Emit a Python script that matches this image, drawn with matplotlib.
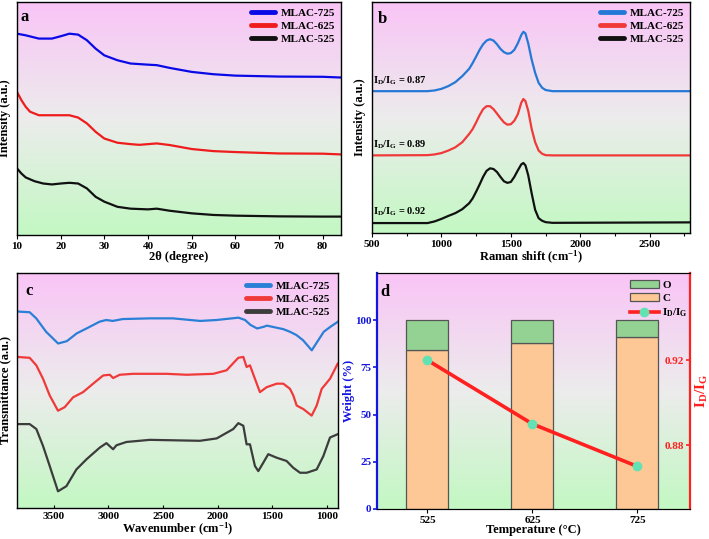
import numpy as np
import matplotlib
matplotlib.use('Agg')
import matplotlib.pyplot as plt
from matplotlib.colors import LinearSegmentedColormap
from matplotlib.lines import Line2D
from matplotlib.patches import Patch
from matplotlib.ticker import MultipleLocator

plt.rcParams['font.family'] = ['Liberation Serif', 'DejaVu Serif']
plt.rcParams['font.weight'] = 'bold'
plt.rcParams['axes.labelweight'] = 'bold'
plt.rcParams['mathtext.fontset'] = 'custom'
plt.rcParams['mathtext.rm'] = 'Liberation Serif:bold'
plt.rcParams['mathtext.it'] = 'Liberation Serif:italic:bold'
plt.rcParams['mathtext.bf'] = 'Liberation Serif:bold'
plt.rcParams['mathtext.default'] = 'rm'

# ---------------- data ----------------
series_names = ['MLAC-725', 'MLAC-625', 'MLAC-525']

# (a) XRD
xrd_725_x = [10, 12, 15, 18, 20, 22, 24, 26, 28, 30, 33, 36, 40, 42, 45, 50, 55, 60, 70, 80, 84]
xrd_725_y = [86.4, 85.7, 84.3, 84.3, 85.3, 86.4, 86.0, 83.6, 80.0, 77.1, 75.0, 73.6, 73.1, 72.9,
             71.7, 70.0, 69.0, 68.4, 68.0, 67.9, 67.6]
xrd_625_x = [10, 11, 12, 13, 15, 18, 20, 22, 24, 26, 28, 30, 33, 36, 38, 40, 42, 45, 50, 55, 60, 70, 80, 84]
xrd_625_y = [61.4, 57.9, 55.0, 52.9, 51.4, 51.4, 51.4, 51.4, 50.4, 47.9, 44.3, 41.4, 39.6, 39.0,
             38.7, 39.0, 39.3, 38.6, 36.9, 36.0, 35.6, 35.0, 34.9, 34.6]
xrd_525_x = [10, 11, 12, 14, 16, 18, 20, 22, 24, 26, 28, 30, 33, 36, 40, 42, 45, 50, 55, 60, 70, 80, 84]
xrd_525_y = [28.6, 26.4, 24.7, 23.1, 22.1, 21.7, 22.1, 22.4, 22.1, 20.0, 16.4, 14.3, 12.1, 11.3,
             11.0, 11.3, 10.4, 9.3, 8.6, 8.3, 8.0, 7.9, 7.9]

# (b) Raman (shared wavenumber grid)
ram_x = [500, 900, 950, 1000, 1050, 1100, 1150, 1200, 1225, 1250, 1275, 1300, 1325, 1350, 1375,
         1400, 1425, 1450, 1475, 1500, 1525, 1550, 1575, 1590, 1605, 1625, 1650, 1675, 1700,
         1725, 1750, 1800, 2800]
ram_725_y = [61.4, 61.4, 61.7, 62.4, 63.6, 65.3, 67.9, 71.1, 73.6, 76.4, 79.3, 81.7, 83.3, 83.9,
             83.3, 81.7, 79.7, 78.3, 77.6, 77.9, 79.3, 82.1, 85.7, 87.1, 86.4, 82.1, 75.0, 69.3,
             65.0, 62.9, 61.9, 61.4, 61.4]
ram_625_y = [33.6, 33.7, 34.0, 34.6, 35.7, 37.1, 39.3, 42.9, 45.0, 47.9, 51.0, 53.6, 54.9, 54.9,
             53.6, 51.7, 49.7, 47.9, 46.9, 47.1, 48.6, 51.4, 56.4, 58.0, 57.1, 52.9, 45.0, 39.3,
             35.7, 34.3, 33.7, 33.6, 33.6]
ram_525_y = [4.3, 4.3, 5.0, 6.1, 7.4, 8.6, 10.3, 12.9, 15.0, 17.9, 21.0, 24.3, 26.9, 28.0, 27.7,
             26.4, 24.3, 22.4, 21.7, 22.1, 24.3, 27.1, 29.7, 30.3, 29.3, 25.0, 17.1, 10.0, 6.4,
             5.3, 4.7, 4.4, 4.6]
ram_ratios = ['0.87', '0.89', '0.92']

# (c) FTIR
ftir_725_x = [3830, 3720, 3660, 3570, 3460, 3380, 3290, 3200, 3080, 3020, 2960, 2870, 2620, 2410,
              2160, 2010, 1810, 1750, 1700, 1640, 1580, 1550, 1460, 1400, 1340, 1280, 1220, 1140,
              1100, 1030, 970, 900]
ftir_725_y = [83.6, 83.3, 80.7, 75.0, 70.0, 71.0, 74.3, 76.4, 79.3, 80.0, 79.6, 80.4, 80.7, 80.7,
              79.6, 80.0, 81.0, 80.0, 77.9, 76.4, 77.1, 77.6, 76.7, 76.1, 75.0, 73.6, 71.4, 67.1,
              70.0, 75.0, 77.1, 79.3]
ftir_625_x = [3836, 3720, 3659, 3598, 3537, 3461, 3400, 3323, 3232, 3140, 3048, 2987, 2957, 2896,
              2774, 2469, 2285, 2041, 1919, 1812, 1766, 1736, 1705, 1660, 1614, 1553, 1461, 1400,
              1339, 1309, 1278, 1217, 1141, 1095, 1049, 973, 903]
ftir_625_y = [64.3, 63.9, 60.7, 55.0, 47.9, 41.4, 42.9, 47.1, 49.3, 52.9, 56.4, 56.7, 55.3, 56.7,
              57.1, 57.1, 56.7, 57.1, 58.6, 63.9, 64.3, 60.0, 60.7, 55.0, 49.3, 51.4, 52.9, 52.9,
              50.7, 47.9, 43.6, 42.1, 39.3, 43.6, 50.7, 55.0, 61.4]
ftir_525_x = [3836, 3720, 3659, 3598, 3537, 3461, 3384, 3293, 3201, 3079, 3018, 2957, 2926, 2835,
              2621, 2163, 2010, 1858, 1812, 1766, 1736, 1705, 1660, 1629, 1583, 1538, 1461, 1370,
              1309, 1247, 1186, 1095, 1034, 973, 903]
ftir_525_y = [35.7, 35.7, 33.6, 26.4, 17.9, 7.1, 9.3, 16.4, 20.7, 25.7, 27.6, 25.0, 26.7, 28.1,
              29.0, 28.6, 29.6, 33.6, 36.1, 35.0, 27.1, 27.1, 17.9, 15.7, 19.3, 22.9, 21.4, 20.0,
              17.1, 15.0, 15.0, 16.4, 22.1, 30.0, 31.4]

# (d) composition
temps = ['525', '625', '725']
carbon = [84, 88, 91]
oxygen = [16, 12, 9]
id_ig = [0.92, 0.89, 0.87]

# ---------------- figure ----------------
W, H = 709, 539
fig = plt.figure(figsize=(W / 100, H / 100), dpi=100)


def add_ax(l, r, t, b):
    return fig.add_axes([l / W, 1 - b / H, (r - l) / W, (b - t) / H])


bg_cmap = LinearSegmentedColormap.from_list(
    'bg', [(0.0, '#c3f8c3'), (0.5, '#ececec'), (1.0, '#f9c4f6')])


def background(ax):
    g = np.linspace(0, 1, 256).reshape(-1, 1)
    ax.imshow(g, cmap=bg_cmap, origin='lower', extent=[0, 1, 0, 1],
              transform=ax.transAxes, aspect='auto', zorder=0, interpolation='bilinear')


def style(ax):
    for s in ax.spines.values():
        s.set_linewidth(1.0)
        s.set_zorder(5)
    ax.tick_params(axis='x', labelsize=8, length=3, width=0.8, pad=2)
    ax.set_yticks([])


def legend3(ax, colors, pad, lw=3.5):
    handles = [Line2D([], [], color=c, lw=lw, solid_capstyle='round') for c in colors]
    ax.legend(handles, series_names, loc='upper right', frameon=False, fontsize=8,
              handlelength=2.2, handletextpad=0.5, labelspacing=0.3,
              borderaxespad=pad, borderpad=0.2)


tick_fs = 8
lab_fs = 9

# ---- (a)
axa = add_ax(17, 341, 2, 235)
background(axa)
ca = ['#0a0ae6', '#ee1c1c', '#111111']
axa.plot(xrd_725_x, xrd_725_y, color=ca[0], lw=1.6, zorder=3)
axa.plot(xrd_625_x, xrd_625_y, color=ca[1], lw=1.6, zorder=3)
axa.plot(xrd_525_x, xrd_525_y, color=ca[2], lw=1.6, zorder=3)
axa.set_xlim(10, 84.2)
axa.set_ylim(0, 100)
axa.set_xticks(range(10, 90, 10))
style(axa)
axa.set_xlabel('2θ (degree)', fontsize=lab_fs, labelpad=0)
axa.set_ylabel('Intensity (a.u.)', fontsize=lab_fs, labelpad=4)
axa.text(0.012, 0.918, 'a', transform=axa.transAxes, fontsize=12, va='baseline', zorder=6)
legend3(axa, ca, 0.35)

# ---- (b)
axb = add_ax(372, 690, 2, 233)
background(axb)
cb = ['#2579d6', '#f03a3a', '#111111']
axb.plot(ram_x, ram_725_y, color=cb[0], lw=1.6, zorder=3)
axb.plot(ram_x, ram_625_y, color=cb[1], lw=1.6, zorder=3)
axb.plot(ram_x, ram_525_y, color=cb[2], lw=1.6, zorder=3)
for ys, r in zip([ram_725_y, ram_625_y, ram_525_y], ram_ratios):
    axb.text(505, ys[0] + 2.0, r'I$_D$/I$_G$ = ' + r, fontsize=7.5, va='bottom', ha='left', zorder=6)
axb.set_xlim(500, 2790)
axb.set_ylim(0, 100)
axb.set_xticks([500, 1000, 1500, 2000, 2500])
axb.xaxis.set_minor_locator(MultipleLocator(250))
style(axb)
axb.tick_params(axis='x', which='minor', length=2, width=0.8)
axb.set_xlabel('Raman shift (cm$^{-1}$)', fontsize=lab_fs, labelpad=0)
axb.set_ylabel('Intensity (a.u.)', fontsize=lab_fs, labelpad=4)
axb.text(0.019, 0.909, 'b', transform=axb.transAxes, fontsize=12, va='baseline', zorder=6)
legend3(axb, cb, 0.35)

# ---- (c)
axc = add_ax(17, 338, 273, 508)
background(axc)
cc = ['#2a7fd6', '#f03a3a', '#3c3c3c']
axc.plot(ftir_725_x, ftir_725_y, color=cc[0], lw=1.6, zorder=3)
axc.plot(ftir_625_x, ftir_625_y, color=cc[1], lw=1.6, zorder=3)
axc.plot(ftir_525_x, ftir_525_y, color=cc[2], lw=1.6, zorder=3)
axc.set_xlim(3836, 900)
axc.set_ylim(0, 100)
axc.set_xticks([3500, 3000, 2500, 2000, 1500, 1000])
style(axc)
axc.tick_params(axis='x', direction='in', length=2.5, pad=3)
axc.set_xlabel('Wavenumber (cm$^{-1}$)', fontsize=lab_fs, labelpad=0)
axc.set_ylabel('Transmittance (a.u.)', fontsize=lab_fs, labelpad=4)
axc.text(0.025, 0.906, 'c', transform=axc.transAxes, fontsize=12, va='baseline', zorder=6)
legend3(axc, cc, 0.5)

# ---- (d)
axd = add_ax(377, 690, 273, 509)
background(axd)
xd = np.arange(len(temps))
c_col = '#fdc895'
o_col = '#93d293'
axd.bar(xd, carbon, width=0.4, color=c_col, edgecolor='#555555', lw=0.9, zorder=2)
axd.bar(xd, oxygen, width=0.4, bottom=carbon, color=o_col, edgecolor='#555555', lw=0.9, zorder=2)
axd.set_xlim(-0.48, 2.5)
axd.set_ylim(0, 125)
axd.set_xticks(xd)
axd.set_xticklabels(temps)
axd.set_yticks([0, 25, 50, 75, 100])
blue = '#1515e0'
red = '#ff2020'
axd.tick_params(axis='x', labelsize=tick_fs, length=3, width=0.8, pad=2)
axd.tick_params(axis='y', labelsize=tick_fs, length=3, width=1.2, pad=1,
                colors=blue, labelcolor=blue)
for s in axd.spines.values():
    s.set_zorder(5)
axd.spines['left'].set_color(blue)
axd.spines['left'].set_linewidth(1.6)
axd.spines['right'].set_visible(False)
axd.set_xlabel('Temperature (°C)', fontsize=lab_fs, labelpad=-1)
axd.set_ylabel('Weight (%)', fontsize=lab_fs, color=blue, labelpad=0)
axd.text(0.012, 0.902, 'd', transform=axd.transAxes, fontsize=12, va='baseline', zorder=6)

ax2 = axd.twinx()
ax2.plot(xd, id_ig, color=red, lw=2.6, marker='o', ms=6, mfc='#62e2b2', mec='#62e2b2', zorder=4)
ax2.set_ylim(0.85, 0.961)
ax2.set_yticks([0.88, 0.92])
ax2.set_yticklabels(['0.88', '0.92'])
ax2.tick_params(axis='y', direction='in', labelsize=tick_fs, length=3, width=1.2, pad=-4.5,
                colors=red, labelcolor=red)
for lbl in ax2.get_yticklabels():
    lbl.set_horizontalalignment('right')
ax2.spines['right'].set_color(red)
ax2.spines['right'].set_linewidth(1.6)
ax2.spines['left'].set_visible(False)
ax2.set_ylabel(r'I$_D$/I$_G$', fontsize=11, color=red, labelpad=3)

handles = [Patch(facecolor=o_col, edgecolor='#555555', lw=0.9),
           Patch(facecolor=c_col, edgecolor='#555555', lw=0.9),
           Line2D([], [], color=red, lw=2.6, marker='o', ms=6, mfc='#62e2b2', mec='#62e2b2')]
ax2.legend(handles, ['O', 'C', r'I$_D$/I$_G$'], loc='upper right', frameon=False, fontsize=8,
           handlelength=2.6, handleheight=0.7, handletextpad=0.3, labelspacing=0.3,
           borderaxespad=0.0, borderpad=0.2, bbox_to_anchor=(1.0, 0.979))

fig.savefig('out.png', dpi=100)
